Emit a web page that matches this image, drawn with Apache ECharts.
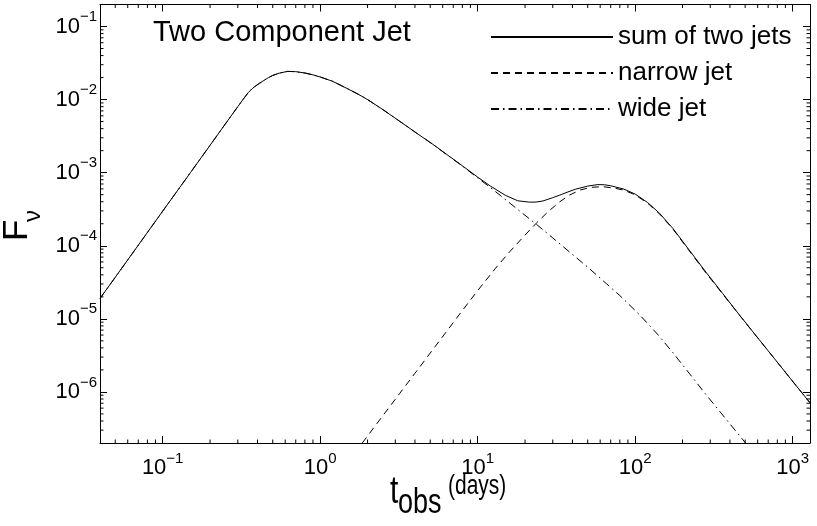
<!DOCTYPE html>
<html>
<head>
<meta charset="utf-8">
<title>Two Component Jet</title>
<script src="https://cdn.jsdelivr.net/npm/echarts@6/dist/echarts.min.js"></script>
<style>
html, body { margin: 0; padding: 0; background: #fff; }
#chart { width: 817px; height: 526px; }
</style>
</head>
<body>
<div id="chart"></div>
<script>
// light curves: t_obs in days, F_nu arbitrary units
var sumT = [0.04, 0.06, 0.1, 0.15, 0.2, 0.25, 0.3, 0.33, 0.35, 0.37, 0.39, 0.41, 0.44, 0.47, 0.5, 0.55, 0.62, 0.7, 0.8, 0.9, 1.0,
            1.2, 1.5, 1.75, 2.0, 2.5, 3.2, 4.0, 5.2, 6.4, 7.7, 10, 12, 15, 18, 21.4, 23.5, 26, 30, 33, 37, 42, 50, 58, 64, 70, 85,
            100, 120, 143, 174, 220, 283, 360, 460, 600, 750, 1000, 1290];
var sumF = [1.9e-5, 6.4e-5, 2.97e-4, 1.0e-3, 2.37e-3, 4.64e-3, 8.0e-3, 0.0106, 0.0125, 0.0141, 0.0154, 0.0166, 0.0183, 0.0200, 0.0214, 0.0230, 0.0243, 0.0241, 0.0231, 0.0218, 0.0204,
            0.0178, 0.0140, 0.0118, 0.0100, 7.3e-3, 5.05e-3, 3.6e-3, 2.44e-3, 1.76e-3, 1.32e-3, 8.7e-4, 6.6e-4, 4.9e-4, 4.12e-4, 3.95e-4, 3.96e-4, 4.1e-4, 4.55e-4, 4.9e-4, 5.4e-4, 5.95e-4, 6.55e-4, 6.87e-4, 6.83e-4, 6.62e-4, 5.95e-4,
            5.1e-4, 3.91e-4, 2.78e-4, 1.72e-4, 8.8e-5, 4.3e-5, 2.22e-5, 1.13e-5, 5.51e-6, 3.03e-6, 1.40e-6, 7.09e-7];

var narrowT = [1.85, 2.5, 3.2, 4, 5, 6.4, 8, 10, 13, 16, 20, 23.6, 28, 33, 38, 44.5, 52, 62, 75, 85, 100, 120, 143, 174, 220, 283, 360, 460, 600, 750, 1000, 1290];
var narrowF = [2.0e-7, 4.72e-7, 9.53e-7, 1.8e-6, 3.4e-6, 6.87e-6, 1.3e-5, 2.43e-5, 4.93e-5, 8.3e-5, 1.4e-4, 2.04e-4, 2.92e-4, 3.95e-4, 4.89e-4, 5.77e-4, 6.28e-4, 6.45e-4, 6.1e-4, 5.76e-4,
               4.97e-4, 3.83e-4, 2.72e-4, 1.69e-4, 8.6e-5, 4.2e-5, 2.18e-5, 1.12e-5, 5.5e-6, 3.03e-6, 1.40e-6, 7.09e-7];

var wideT = [0.04, 0.06, 0.1, 0.15, 0.2, 0.25, 0.3, 0.33, 0.35, 0.37, 0.39, 0.41, 0.44, 0.47, 0.5, 0.55, 0.62, 0.7, 0.8, 0.9, 1.0,
             1.2, 1.5, 1.75, 2.0, 2.5, 3.2, 4.0, 5.2, 6.4, 7.7, 10, 12, 14.5, 18, 23.3, 30, 40, 50, 65.6, 80, 107, 140, 174, 220, 283, 380, 503];
var wideF = [1.9e-5, 6.4e-5, 2.97e-4, 1.0e-3, 2.37e-3, 4.64e-3, 8.0e-3, 0.0106, 0.0125, 0.0141, 0.0154, 0.0166, 0.0183, 0.0200, 0.0214, 0.0230, 0.0243, 0.0241, 0.0231, 0.0218, 0.0204,
             0.0178, 0.0140, 0.0118, 0.0100, 7.3e-3, 5.05e-3, 3.6e-3, 2.44e-3, 1.75e-3, 1.31e-3, 8.5e-4, 6.3e-4, 4.55e-4, 3.13e-4, 2.01e-4, 1.28e-4, 7.6e-5, 5.09e-5, 3.04e-5, 2.08e-5,
             1.13e-5, 6.03e-6, 3.43e-6, 1.81e-6, 9.1e-7, 4.18e-7, 2.0e-7];

var seriesNames = ['sum of two jets', 'narrow jet', 'wide jet'];

// axis ranges and tick layout
var xRange = [0.04, 1290];
var yRange = [2e-7, 0.2];
var xDecades = [-2, -1, 0, 1, 2, 3];
var yDecades = [-7, -6, -5, -4, -3, -2, -1];
var minorSteps = [2, 3, 4, 5, 6, 7, 8, 9];

var FONT = '"Liberation Sans", Arial, Helvetica, sans-serif';

function pairs(t, f) {
    var out = [];
    for (var i = 0; i < t.length; i++) out.push([t[i], f[i]]);
    return out;
}

function minorList(decades, range) {
    var out = [];
    decades.forEach(function (d) {
        minorSteps.forEach(function (m) {
            var v = m * Math.pow(10, d);
            if (v > range[0] * 1.0001 && v < range[1] * 0.9999) out.push(v);
        });
    });
    return out;
}

function powLabel(v) {
    var lg = Math.log10(v);
    var e = Math.round(lg);
    if (Math.abs(lg - e) > 1e-6) return '';
    return '{b|10}{e|' + (e < 0 ? '\u2212' + (-e) : e) + '}';
}

var xMinor = minorList(xDecades, xRange).map(function (v) { return [v, 1e-3]; });
var yMinor = minorList(yDecades, yRange).map(function (v) { return [1, v]; });

function tickLine(x1, y1, x2, y2) {
    return { type: 'line', shape: { x1: x1, y1: y1, x2: x2, y2: y2 }, style: { stroke: '#000', lineWidth: 1 } };
}

var chart = echarts.init(document.getElementById('chart'), null, { renderer: 'canvas' });

var axisLineStyle = { show: true, onZero: false, lineStyle: { color: '#000', width: 1 } };
var majorTick = { show: true, inside: true, length: 7, lineStyle: { color: '#000', width: 1 } };
var powRich = {
    b: { fontSize: 22, lineHeight: 34, fontFamily: FONT, color: '#000', verticalAlign: 'middle' },
    e: { fontSize: 15, lineHeight: 15, fontFamily: FONT, color: '#000', verticalAlign: 'top' }
};

var option = {
    animation: false,
    backgroundColor: '#fff',
    grid: { left: 100, right: 7, top: 4.5, bottom: 83, containLabel: false, outerBoundsMode: 'none' },
    xAxis: [{
        type: 'log', logBase: 10, min: xRange[0], max: xRange[1], splitNumber: 5, position: 'bottom',
        axisLine: axisLineStyle, axisTick: majorTick, splitLine: { show: false },
        axisLabel: { margin: 8, formatter: powLabel, showMinLabel: false, showMaxLabel: false, rich: powRich }
    }, {
        type: 'log', logBase: 10, min: xRange[0], max: xRange[1], splitNumber: 5, position: 'top',
        axisLine: axisLineStyle, axisTick: majorTick, axisLabel: { show: false }, splitLine: { show: false }
    }],
    yAxis: [{
        type: 'log', logBase: 10, min: yRange[0], max: yRange[1], splitNumber: 6, position: 'left',
        axisLine: axisLineStyle, axisTick: majorTick, splitLine: { show: false },
        axisLabel: { margin: 3, formatter: powLabel, showMinLabel: false, showMaxLabel: false, rich: powRich }
    }, {
        type: 'log', logBase: 10, min: yRange[0], max: yRange[1], splitNumber: 6, position: 'right',
        axisLine: axisLineStyle, axisTick: majorTick, axisLabel: { show: false }, splitLine: { show: false }
    }],
    legend: {
        data: seriesNames, orient: 'vertical', left: 490, top: 22, padding: 0,
        itemWidth: 122, itemHeight: 14, itemGap: 6,
        itemStyle: { opacity: 0 },
        textStyle: { fontSize: 26, lineHeight: 30, fontFamily: FONT, color: '#000' }
    },
    graphic: [
        { type: 'text', left: 153, top: 18, style: { text: 'Two Component Jet', fontSize: 29, fontFamily: FONT, fill: '#000' } },
        // x axis title, slightly tall letters as in the original
        { type: 'group', x: 390, y: 506, scaleY: 1.3, children: [
            { type: 'text', x: 0, y: -10.5, style: { text: 't', fontSize: 30, fontFamily: FONT, fill: '#000', verticalAlign: 'middle', align: 'left' } },
            { type: 'text', x: 8, y: -2, style: { text: 'obs', fontSize: 27, fontFamily: FONT, fill: '#000', verticalAlign: 'middle', align: 'left' } },
            { type: 'text', x: 58, y: -15, style: { text: '(days)', fontSize: 21, fontFamily: FONT, fill: '#000', verticalAlign: 'middle', align: 'left' } }
        ] },
        // y axis title, rotated
        { type: 'group', x: 30, y: 241, rotation: Math.PI / 2, children: [
            { type: 'text', x: 0, y: -12.25, style: { text: 'F', fontSize: 35, fontFamily: FONT, fill: '#000', verticalAlign: 'middle', align: 'left' } },
            { type: 'text', x: 19, y: 3.6, style: { text: '\u03bd', fontSize: 24, fontFamily: FONT, fill: '#000', verticalAlign: 'middle', align: 'left' } }
        ] }
    ],
    series: [{
        name: seriesNames[0], type: 'line', data: pairs(sumT, sumF), symbol: 'none', smooth: false,
        lineStyle: { color: '#000', width: 1, type: 'solid' }, itemStyle: { color: '#000' }, z: 5
    }, {
        name: seriesNames[1], type: 'line', data: pairs(narrowT, narrowF), symbol: 'none', smooth: false,
        lineStyle: { color: '#000', width: 1, type: [7, 5] }, itemStyle: { color: '#000' }, z: 4
    }, {
        name: seriesNames[2], type: 'line', data: pairs(wideT, wideF), symbol: 'none', smooth: false,
        lineStyle: { color: '#000', width: 1, type: [8, 4, 1.5, 4] }, itemStyle: { color: '#000' }, z: 4
    }, {
        // minor log ticks on bottom and top edges
        type: 'custom', data: xMinor, silent: true, z: 6,
        renderItem: function (params, api) {
            var cs = params.coordSys;
            var px = api.coord([api.value(0), api.value(1)])[0];
            return { type: 'group', children: [
                tickLine(px, cs.y + cs.height, px, cs.y + cs.height - 3.5),
                tickLine(px, cs.y, px, cs.y + 3.5)
            ] };
        }
    }, {
        // minor log ticks on left and right edges
        type: 'custom', data: yMinor, silent: true, z: 6,
        renderItem: function (params, api) {
            var cs = params.coordSys;
            var py = api.coord([api.value(0), api.value(1)])[1];
            return { type: 'group', children: [
                tickLine(cs.x, py, cs.x + 3.5, py),
                tickLine(cs.x + cs.width, py, cs.x + cs.width - 3.5, py)
            ] };
        }
    }]
};

chart.setOption(option);

window.onresize = function () {
    chart.resize();
};
</script>
</body>
</html>
